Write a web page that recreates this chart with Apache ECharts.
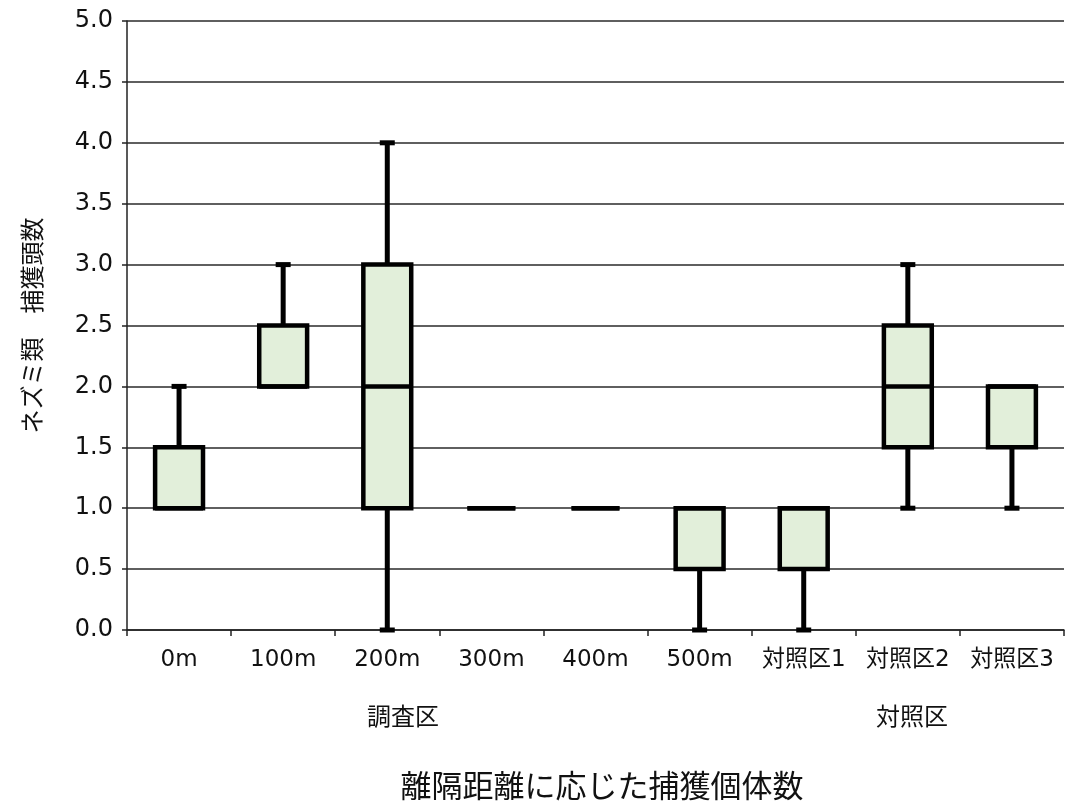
<!DOCTYPE html>
<html>
<head>
<meta charset="utf-8">
<style>
  html, body { margin: 0; padding: 0; background: #fff; }
  #chart { width: 1065px; height: 803px; }
</style>
<script src="https://cdn.jsdelivr.net/npm/echarts@6/dist/echarts.min.js"></script>
</head>
<body>
<div id="chart"></div>
<script>
// Sites along the distance transect plus the three control plots
const categories = ['0m', '100m', '200m', '300m', '400m', '500m', '対照区1', '対照区2', '対照区3'];

// Five-number summaries of captures per site: min, Q1, median, Q3, max
const minValues    = [1, 2, 0, 1, 1, 0,   0,   1,   1];
const q1Values     = [1, 2, 1, 1, 1, 0.5, 0.5, 1.5, 1.5];
const medianValues = [1, 2, 2, 1, 1, 1,   1,   2,   2];
const q3Values     = [1.5, 2.5, 3, 1, 1, 1, 1, 2.5, 2];
const maxValues    = [2, 3, 4, 1, 1, 1,   1,   3,   2];

const yTicks = { min: 0, max: 5, interval: 0.5 };

const groupLabels = ['調査区', '対照区'];
const yAxisTitle = 'ネズミ類　捕獲頭数';
const xAxisTitle = '離隔距離に応じた捕獲個体数';

const FONT = '"DejaVu Sans", "Noto Sans CJK JP", sans-serif';
const BOX_FILL = '#e2efda';
const INK = '#000';

const boxData = categories.map((c, i) => [i, minValues[i], q1Values[i], medianValues[i], q3Values[i], maxValues[i]]);

function renderBox(params, api) {
  const idx = api.value(0);
  const vMin = api.value(1), vQ1 = api.value(2), vMed = api.value(3), vQ3 = api.value(4), vMax = api.value(5);
  const bandW = api.size([1, 0])[0];
  const boxW = bandW * 0.46;
  const capW = 15;
  const pMin = api.coord([idx, vMin]);
  const pQ1 = api.coord([idx, vQ1]);
  const pMed = api.coord([idx, vMed]);
  const pQ3 = api.coord([idx, vQ3]);
  const pMax = api.coord([idx, vMax]);
  const cx = pQ1[0];
  const children = [];
  const lineStyle = { stroke: INK, lineWidth: 5 };

  if (vMin < vQ1) {
    children.push({ type: 'line', shape: { x1: cx, y1: pMin[1], x2: cx, y2: pQ1[1] }, style: lineStyle });
    children.push({ type: 'line', shape: { x1: cx - capW / 2, y1: pMin[1], x2: cx + capW / 2, y2: pMin[1] }, style: lineStyle });
  }
  if (vMax > vQ3) {
    children.push({ type: 'line', shape: { x1: cx, y1: pMax[1], x2: cx, y2: pQ3[1] }, style: lineStyle });
    children.push({ type: 'line', shape: { x1: cx - capW / 2, y1: pMax[1], x2: cx + capW / 2, y2: pMax[1] }, style: lineStyle });
  }
  children.push({
    type: 'rect',
    shape: { x: cx - boxW / 2, y: pQ3[1], width: boxW, height: pQ1[1] - pQ3[1] },
    style: { fill: BOX_FILL, stroke: INK, lineWidth: 4.5 }
  });
  children.push({
    type: 'line',
    shape: { x1: cx - boxW / 2, y1: pMed[1], x2: cx + boxW / 2, y2: pMed[1] },
    style: { stroke: INK, lineWidth: 4.5 }
  });
  return { type: 'group', children };
}

const chart = echarts.init(document.getElementById('chart'), null, { renderer: 'canvas' });

chart.setOption({
  animation: false,
  backgroundColor: '#fff',
  textStyle: { fontFamily: FONT },
  grid: { left: 127, right: 1, top: 21, bottom: 173, containLabel: false },
  xAxis: {
    type: 'category',
    data: categories,
    boundaryGap: true,
    axisLine: { show: true, lineStyle: { color: '#222', width: 1.5 } },
    axisTick: { show: true, interval: 0, length: 6, inside: false, lineStyle: { color: '#222', width: 1.5 } },
    axisLabel: { interval: 0, margin: 19, fontSize: 23, color: '#111', fontFamily: FONT },
    splitLine: { show: false }
  },
  yAxis: {
    type: 'value',
    min: yTicks.min,
    max: yTicks.max,
    interval: yTicks.interval,
    name: yAxisTitle,
    nameLocation: 'middle',
    nameGap: 80,
    nameRotate: 90,
    nameTextStyle: { fontSize: 24, color: '#111', fontFamily: FONT },
    axisLine: { show: true, lineStyle: { color: '#222', width: 1.5 } },
    axisTick: { show: true, length: 5, lineStyle: { color: '#222', width: 1.5 } },
    axisLabel: {
      margin: 14, fontSize: 24, color: '#111', fontFamily: FONT,
      formatter: v => v.toFixed(1)
    },
    splitLine: { show: true, lineStyle: { color: '#2a2a2a', width: 1.5 } }
  },
  graphic: [
    { type: 'text', x: 403, y: 719, style: { text: groupLabels[0], font: '24px ' + FONT, fill: '#111', align: 'center', verticalAlign: 'middle' } },
    { type: 'text', x: 912, y: 719, style: { text: groupLabels[1], font: '24px ' + FONT, fill: '#111', align: 'center', verticalAlign: 'middle' } },
    { type: 'text', x: 602, y: 789, style: { text: xAxisTitle, font: '31px ' + FONT, fill: '#111', align: 'center', verticalAlign: 'middle' } }
  ],
  series: [{
    type: 'custom',
    renderItem: renderBox,
    data: boxData,
    encode: { x: 0, y: [1, 2, 3, 4, 5] },
    clip: false,
    z: 5
  }]
});
</script>
</body>
</html>
